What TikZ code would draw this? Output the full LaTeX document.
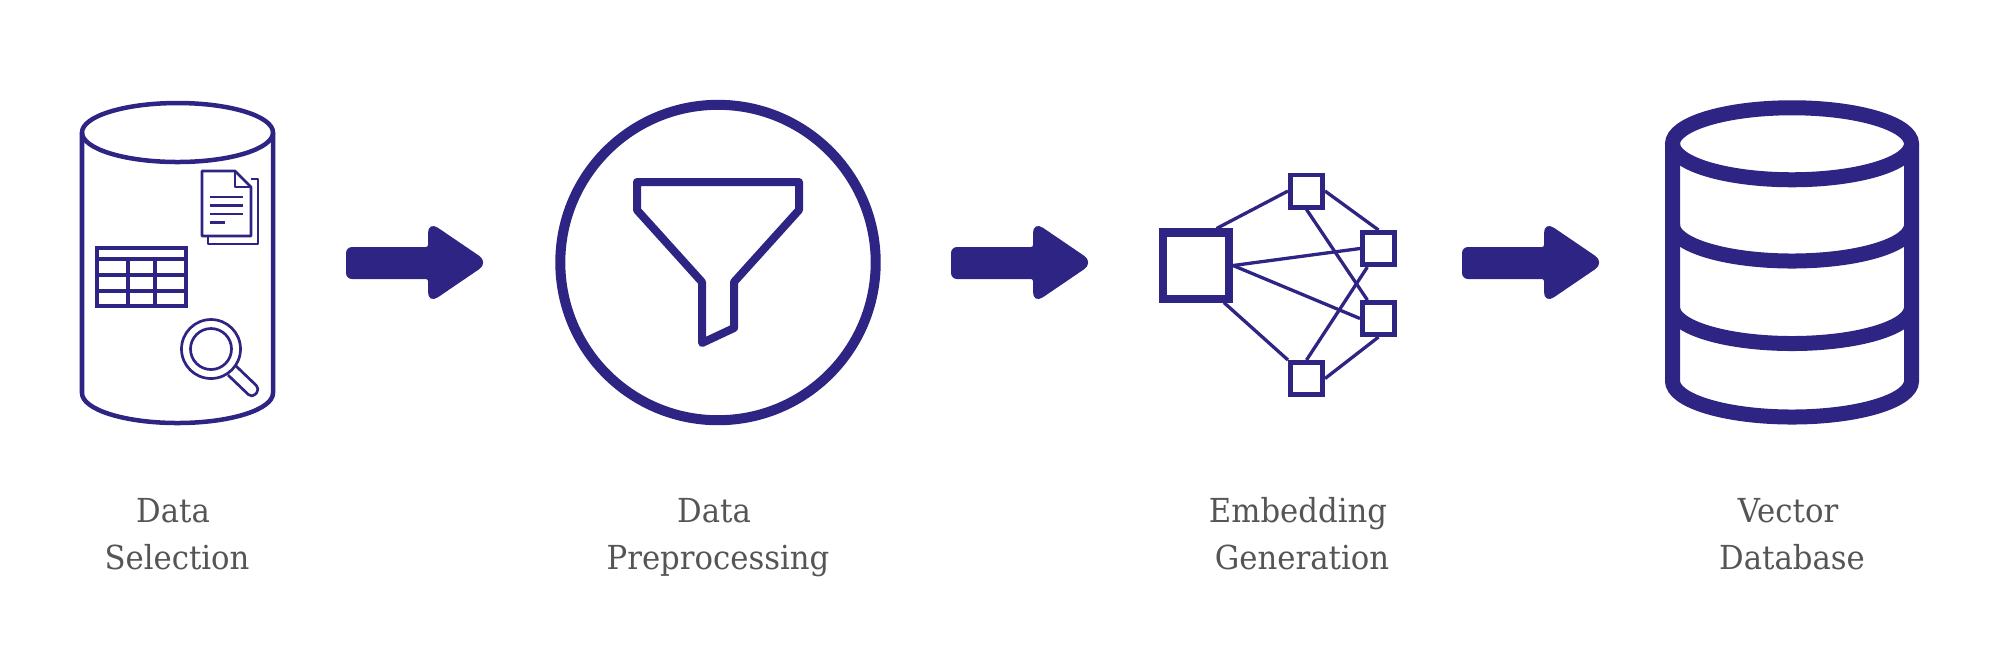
\documentclass[tikz,border=0pt]{standalone}
\usepackage{fontspec}
\setmainfont[FakeStretch=0.93]{DejaVu Serif}
\definecolor{navyline}{HTML}{2E2483}
\definecolor{labelgray}{HTML}{555555}
\tikzset{
    thinline/.style={draw=navyline, line width=0.027cm, line join=round},
    sqnode/.style={draw=navyline, line width=0.047cm, minimum size=0.323cm, inner sep=0pt},
    link/.style={navyline, line width=0.033cm},
    stagelabel/.style={text=labelgray, align=center, anchor=base, font=\fontsize{9.4}{13.1}\selectfont}
}
\newcommand{\lgap}{\hspace*{0.08cm}\null}
\begin{document}
\begin{tikzpicture}[x=0.01cm, y=-0.01cm]
    \useasboundingbox (0, 0) rectangle (2000, 656);

    % selection cylinder
    \draw[navyline, line width=0.045cm] (177.5, 132.5) ellipse [x radius=95.5, y radius=29.5];
    \draw[navyline, line width=0.045cm] (82, 132.5) -- (82, 393) arc[start angle=180, end angle=0, x radius=95.5, y radius=30] -- (273, 132.5);

    % documents
    \draw[thinline] (251, 179) -- (258, 179) -- (258, 244) -- (208, 244) -- (208, 236);
    \draw[thinline] (202, 171) -- (235, 171) -- (251, 187) -- (251, 236) -- (202, 236) -- cycle;
    \draw[thinline] (235, 171) -- (235, 187) -- (251, 187);
    \foreach \y in {197, 205.5, 214} {
        \draw[thinline] (210, \y) -- (243, \y);
    }
    \draw[thinline] (210, 222.5) -- (225, 222.5);

    % table
    \draw[navyline, line width=0.033cm] (97, 248) rectangle (186, 306);
    \foreach \y in {259, 275, 291} {
        \draw[navyline, line width=0.033cm] (97, \y) -- (186, \y);
    }
    \foreach \x in {128, 155} {
        \draw[navyline, line width=0.033cm] (\x, 259) -- (\x, 306);
    }

    % magnifier
    \draw[thinline] (211, 349) circle (29.5);
    \draw[thinline] (211, 349) circle (20.5);
    \draw[thinline, rounded corners=0.05cm] (236, 366) -- (260, 389) -- (252, 398) -- (228, 375);

    % arrows
    \foreach \x in {0, 605, 1116} {
        \fill[navyline, shift={(\x, 0)}, rounded corners=0.06cm] (346, 247) [rounded corners=0.02cm] -- (428, 247) [rounded corners=0.12cm] -- (428, 221) -- (489, 262.5) -- (428, 304) [rounded corners=0.02cm] -- (428, 279) [rounded corners=0.06cm] -- (346, 279) -- cycle;
    }

    % funnel
    \draw[navyline, line width=0.1cm] (718, 262.5) circle (157.7);
    \draw[navyline, line width=0.08cm, line join=round] (637, 182) -- (799, 182) -- (799, 210) -- (734, 282) -- (734, 328) -- (702, 343) -- (702, 282) -- (637, 210) -- cycle;

    % network
    \node[sqnode, line width=0.08cm, minimum size=0.66cm] (big) at (1196, 265.5) {};
    \node[sqnode] (top) at (1306.5, 191) {};
    \node[sqnode] (upper) at (1378.5, 248.5) {};
    \node[sqnode] (lower) at (1378.5, 318.5) {};
    \node[sqnode] (bot) at (1306.5, 378.5) {};
    \draw[link] (big.61) -- (top.west);
    \draw[link] (top.east) -- (upper.north);
    \draw[link] (top.south) -- (lower.121);
    \draw[link] (big.east) -- (upper.west);
    \draw[link] (big.east) -- (lower.west);
    \draw[link] (big.-53) -- (bot.north west);
    \draw[link] (bot.north) -- (upper.-121);
    \draw[link] (bot.east) -- (lower.south);

    % vector database
    \draw[navyline, line width=0.15cm] (1792, 143.75) ellipse [x radius=119.5, y radius=36];
    \draw[navyline, line width=0.15cm] (1672.5, 143.75) -- (1672.5, 381) arc[start angle=180, end angle=0, x radius=119.5, y radius=36] -- (1911.5, 143.75);
    \foreach \y in {225, 307.5} {
        \draw[navyline, line width=0.15cm] (1672.5, \y) arc[start angle=180, end angle=0, x radius=119.5, y radius=36];
    }

    % labels
    \node[stagelabel] (selection) at (177, 569) {Data\lgap\\Selection};
    \node[stagelabel] (preprocessing) at (718, 569) {Data\lgap\\Preprocessing};
    \node[stagelabel] (embedding) at (1302, 569) {Embedding\lgap\\Generation};
    \node[stagelabel] (database) at (1792, 569) {Vector\lgap\\Database};
\end{tikzpicture}
\end{document}
